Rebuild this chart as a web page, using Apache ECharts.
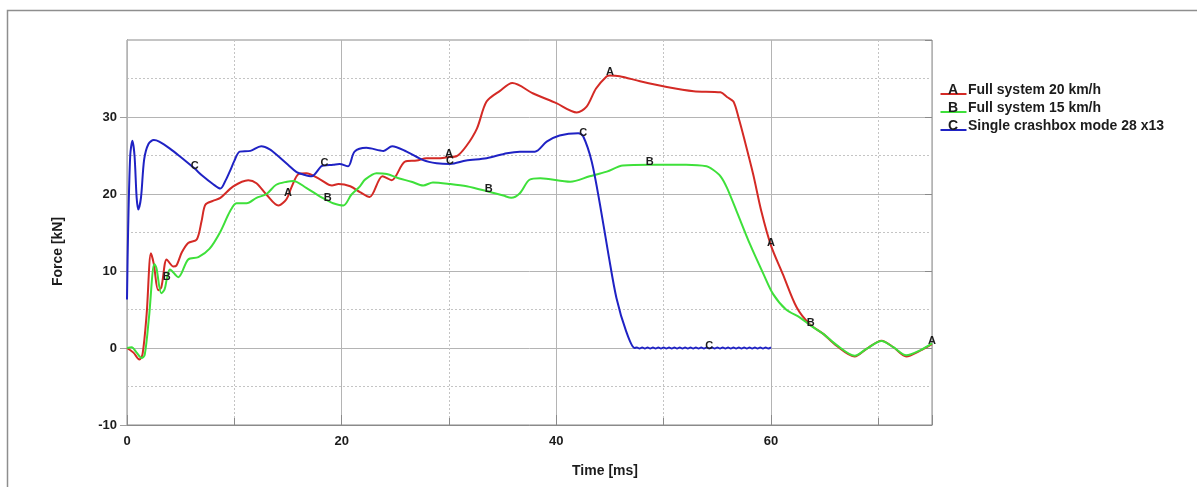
<!DOCTYPE html>
<html>
<head>
<meta charset="utf-8">
<script src="https://cdn.jsdelivr.net/npm/echarts@6/dist/echarts.min.js"></script>
<style>
html,body{margin:0;padding:0;background:#fff;}
#chart{width:1197px;height:487px;}
</style>
</head>
<body>
<div id="chart"></div>
<script>
// ---- Data ----
const seriesNames = ['Full system 20 km/h', 'Full system 15 km/h', 'Single crashbox mode 28 x13'];
const seriesLetters = ['A', 'B', 'C'];

const tA = [0,0.6,1.15,1.45,1.83,2.23,2.5,2.9,3.2,3.7,4.3,4.6,5.1,5.7,6.5,6.95,7.3,8.0,8.7,9.9,11.3,12.06,13.0,14.1,14.7,15.0,15.3,16.0,16.7,17.98,19.1,19.7,20.8,21.7,22.6,23.8,24.66,25.9,27.0,27.9,29.2,30.0,30.7,31.6,32.6,33.5,34.75,35.9,37.85,40.0,41.9,42.8,43.7,44.7,45.0,45.9,47.8,50.3,52.8,55.3,55.9,56.5,57.0,57.5,58.35,59.1,60.0,61.1,62.4,63.6,64.9,66.1,67.8,68.9,70.3,71.4,72.6,73.9,75];
const fA = [0,-0.6,-1.5,-0.8,4.4,12.3,10.9,7.5,7.9,11.5,10.6,10.7,12.4,13.65,14.1,16.5,18.6,19.1,19.5,21.0,21.8,21.4,19.9,18.5,19.05,19.7,20.8,22.6,22.7,21.9,21.1,21.3,21.0,20.25,19.6,22.3,21.8,24.2,24.35,24.65,24.65,24.8,24.9,26.2,28.5,32.0,33.4,34.4,33.05,31.8,30.6,31.3,33.7,35.3,35.4,35.3,34.65,33.9,33.35,33.2,32.6,32.0,29.8,27.2,22.5,17.75,13.3,9.6,5.25,3.1,1.8,0.3,-1.1,-0.1,0.95,0.1,-1.1,-0.35,0.5];

const tB = [0,0.44,0.9,1.36,1.65,2.05,2.55,2.74,3.2,3.5,3.7,4.0,4.78,5.7,6.65,7.7,8.66,9.6,10.2,11.15,12.06,13.0,13.9,14.9,15.5,16.7,17.95,18.7,19.2,20.15,20.9,21.7,22.2,23.25,24.2,25.3,26.5,27.6,28.5,30.1,31.65,33.7,35.06,35.8,36.6,37.5,38.5,41.3,43.1,44.7,46.2,48.7,52.1,54.0,54.6,55.3,55.9,56.8,58.05,59.3,60.2,61.4,62.7,63.7,64.9,66.1,67.8,68.9,70.3,71.4,72.6,73.9,75];
const fB = [0,0.1,-0.6,-1.3,-0.9,4.0,10.9,10.4,7.1,7.6,8.9,10.2,9.2,11.5,11.8,12.9,15.0,17.75,18.8,18.8,19.5,20.0,21.2,21.6,21.7,20.8,19.7,19.15,18.8,18.5,19.9,21.0,21.9,22.7,22.6,22.05,21.6,21.1,21.5,21.3,21.0,20.3,19.8,19.5,20.1,21.85,22.05,21.6,22.3,22.9,23.7,23.8,23.8,23.6,23.15,22.3,20.8,17.75,13.45,9.6,7.0,5.0,3.95,2.9,1.8,0.4,-1.0,-0.1,0.9,0.1,-0.95,-0.3,0.6];

const tC = [0,0.1,0.3,0.5,0.7,0.9,1.05,1.3,1.6,2.0,2.5,3.0,4.0,5.0,6.3,7.0,8.0,8.7,9.2,9.6,10.0,10.5,11.5,12.5,13.3,14.1,15.0,15.8,16.5,17.2,18.1,18.4,19.2,19.8,20.6,21.2,22.3,23.9,24.7,26.05,27.6,28.85,30.1,31.6,33.5,35.4,36.6,38.0,39.1,40.3,42.05,42.5,43.3,44.07,44.85,45.6,46.5,47.3,
  47.5,47.75,48,48.25,48.5,48.75,49,49.25,49.5,49.75,50,50.25,50.5,50.75,51,51.25,51.5,51.75,52,52.25,52.5,52.75,53,53.25,53.5,53.75,54,54.25,54.5,54.75,55,55.25,55.5,55.75,56,56.25,56.5,56.75,57,57.25,57.5,57.75,58,58.25,58.5,58.75,59,59.25,59.5,59.75,60];
const fC = [6.3,15,25,26.9,25,19.5,18.0,19.5,24.5,26.5,27.0,26.8,25.9,24.8,23.3,22.4,21.3,20.7,21.8,23.0,24.3,25.5,25.6,26.2,25.8,24.9,23.8,22.85,22.5,22.3,23.6,23.7,23.8,23.9,23.6,25.5,26.0,25.6,26.2,25.5,24.4,24.0,23.9,24.35,24.65,25.3,25.5,25.5,26.8,27.6,27.9,27.5,24.2,18.6,12.2,6.5,2.2,0,
  0.07,-0.07,0.07,-0.07,0.07,-0.07,0.07,-0.07,0.07,-0.07,0.07,-0.07,0.07,-0.07,0.07,-0.07,0.07,-0.07,0.07,-0.07,0.07,-0.07,0.07,-0.07,0.07,-0.07,0.07,-0.07,0.07,-0.07,0.07,-0.07,0.07,-0.07,0.07,-0.07,0.07,-0.07,0.07,-0.07,0.07,-0.07,0.07,-0.07,0.07,-0.07,0.07,-0.07,0.07,-0.07,0.07];

const labelTimesA = [15, 30, 45, 60, 75];
const labelTimesB = [3.7, 18.7, 33.7, 48.7, 63.7];
const labelTimesC = [6.3, 18.4, 30.1, 42.5, 54.25];

const xMajorTicks = [0, 20, 40, 60];
const yTickLabels = [-10, 0, 10, 20, 30];

// ---- Styling ----
const colors = ['#d42a25', '#3ee03a', '#1f22c4'];
const FONT = 'Liberation Sans, Arial, sans-serif';
const textColor = '#1c1c1c';

function buildData(ts, fs, labelTimes, letter) {
  return ts.map((t, i) => {
    const item = { value: [t, fs[i]] };
    if (labelTimes.indexOf(t) >= 0) {
      item.label = {
        show: true, formatter: letter, position: 'inside', offset: [0, -3],
        color: textColor, fontFamily: FONT, fontWeight: 'bold', fontSize: 11
      };
    }
    return item;
  });
}

function lineSeries(idx, ts, fs, labelTimes) {
  return {
    type: 'line', name: seriesNames[idx], xAxisIndex: 0, yAxisIndex: 0,
    data: buildData(ts, fs, labelTimes, seriesLetters[idx]),
    smooth: 0.3,
    showSymbol: true, showAllSymbol: true, symbol: 'circle', symbolSize: 0,
    itemStyle: { color: colors[idx] },
    lineStyle: { color: colors[idx], width: 2 },
    emphasis: { disabled: true }, animation: false, z: 3 + idx
  };
}

const legendGraphics = [];
seriesNames.forEach((name, i) => {
  const cy = 90 + 18 * i;
  legendGraphics.push({
    type: 'line', shape: { x1: 940.5, y1: cy + 4, x2: 966.5, y2: cy + 4 },
    style: { stroke: colors[i], lineWidth: 2 }
  });
  legendGraphics.push({
    type: 'text', x: 953, y: cy,
    style: { text: seriesLetters[i], fill: textColor, font: 'bold 14px ' + FONT, textAlign: 'center', textVerticalAlign: 'middle' }
  });
  legendGraphics.push({
    type: 'text', x: 968, y: cy,
    style: { text: name, fill: textColor, font: 'bold 14px ' + FONT, textAlign: 'left', textVerticalAlign: 'middle' }
  });
});

const chart = echarts.init(document.getElementById('chart'), null, { renderer: 'canvas' });
chart.setOption({
  backgroundColor: '#ffffff',
  animation: false,
  grid: { left: 127, top: 40, right: 265, bottom: 62, show: true, borderColor: '#8a8a8a', borderWidth: 1, backgroundColor: 'transparent' },
  graphic: [
    { type: 'rect', shape: { x: 7.5, y: 10.5, width: 1400, height: 700 }, style: { fill: 'none', stroke: '#8e8e8e', lineWidth: 1.5 }, silent: true }
  ].concat(legendGraphics),
  xAxis: [
    {
      type: 'value', min: 0, max: 75, interval: 10, position: 'bottom',
      axisLine: { show: true, onZero: false, lineStyle: { color: '#8a8a8a', width: 1 } },
      axisTick: { show: true, inside: true, length: 7, lineStyle: { color: '#8a8a8a' } },
      axisLabel: { show: false },
      splitLine: { show: true, lineStyle: { color: '#c4c4c4', type: [2, 2], width: 1 } }
    },
    {
      type: 'value', min: 0, max: 75, interval: 20, position: 'bottom', z: 3,
      axisLine: { show: false, onZero: false },
      axisTick: { show: true, inside: true, length: 10, lineStyle: { color: '#8a8a8a' } },
      axisLabel: {
        show: true, margin: 10, color: textColor, fontFamily: FONT, fontWeight: 'bold', fontSize: 13,
        formatter: v => (xMajorTicks.indexOf(v) >= 0 ? String(v) : '')
      },
      splitLine: { show: true, lineStyle: { color: '#b4b4b4', type: 'solid', width: 1 } },
      name: 'Time [ms]', nameLocation: 'middle', nameGap: 39,
      nameTextStyle: { color: textColor, fontFamily: FONT, fontWeight: 'bold', fontSize: 14, padding: [0, 0, 0, 151] }
    }
  ],
  yAxis: [
    {
      type: 'value', min: -10, max: 40, interval: 10, position: 'left',
      axisLine: { show: true, onZero: false, lineStyle: { color: '#8a8a8a', width: 1 } },
      axisTick: { show: true, inside: false, length: 7, lineStyle: { color: '#a0a0a0' }, customValues: yTickLabels },
      minorTick: { show: false, splitNumber: 2 },
      minorSplitLine: { show: true, lineStyle: { color: '#c4c4c4', type: [2, 2], width: 1 } },
      axisLabel: {
        show: true, margin: 10, color: textColor, fontFamily: FONT, fontWeight: 'bold', fontSize: 13,
        formatter: v => (yTickLabels.indexOf(v) >= 0 ? String(v) : '')
      },
      splitLine: { show: true, lineStyle: { color: '#b4b4b4', type: 'solid', width: 1 } },
      name: 'Force [kN]', nameLocation: 'middle', nameGap: 62, nameRotate: 90,
      nameTextStyle: { color: textColor, fontFamily: FONT, fontWeight: 'bold', fontSize: 14, padding: [0, 38, 0, 0] }
    },
    {
      type: 'value', min: -10, max: 40, interval: 10, position: 'right',
      axisLine: { show: false, onZero: false },
      axisTick: { show: true, inside: true, length: 7, lineStyle: { color: '#8a8a8a' } },
      axisLabel: { show: false },
      splitLine: { show: false }
    }
  ],
  series: [
    lineSeries(0, tA, fA, labelTimesA),
    lineSeries(1, tB, fB, labelTimesB),
    lineSeries(2, tC, fC, labelTimesC)
  ]
});
</script>
</body>
</html>
